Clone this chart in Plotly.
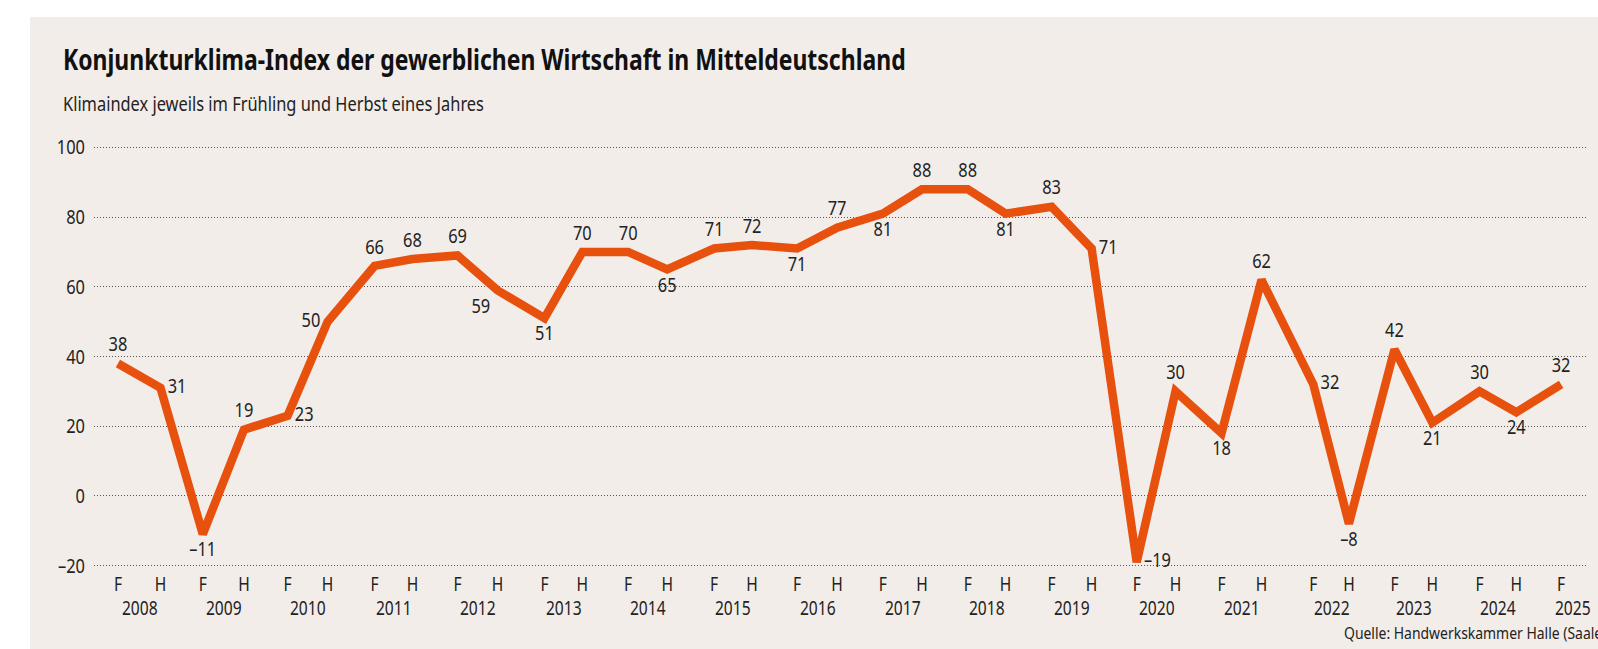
import plotly.graph_objects as go
from datetime import date, timedelta

# ---------------- data ----------------
years = list(range(2008, 2026))
season_labels = ["F", "H"]
# survey dates (Frühling / Herbst)
survey_dates = [
    "2008-04-01", "2008-10-01",
    "2009-04-01", "2009-09-25",
    "2010-04-01", "2010-09-20",
    "2011-04-10", "2011-09-20",
    "2012-04-01", "2012-09-20",
    "2013-04-10", "2013-09-20",
    "2014-04-05", "2014-09-20",
    "2015-04-10", "2015-09-20",
    "2016-04-01", "2016-09-20",
    "2017-04-05", "2017-09-20",
    "2018-04-05", "2018-09-15",
    "2019-04-01", "2019-09-20",
    "2020-04-01", "2020-09-15",
    "2021-04-01", "2021-09-20",
    "2022-05-01", "2022-10-01",
    "2023-04-15", "2023-09-25",
    "2024-04-15", "2024-09-20",
    "2025-04-01",
]
index_values = [38, 31, -11, 19, 23, 50, 66, 68, 69, 59, 51, 70, 70, 65, 71, 72, 71, 77,
                81, 88, 88, 81, 83, 71, -19, 30, 18, 62, 32, -8, 42, 21, 30, 24, 32]
tick_text = [season_labels[i % 2] for i in range(len(survey_dates))]
y_ticks = [-20, 0, 20, 40, 60, 80, 100]

title_text = "Konjunkturklima-Index der gewerblichen Wirtschaft in Mitteldeutschland"
subtitle_text = "Klimaindex jeweils im Frühling und Herbst eines Jahres"
source_text = "Quelle: Handwerkskammer Halle (Saale)"

# label placement per point
label_pos = ["top center", "middle right", "bottom center", "top center", "middle right",
             "middle left", "top center", "top center", "top center", "bottom left",
             "bottom center", "top center", "top center", "bottom center", "top center",
             "top center", "bottom center", "top center", "bottom center", "top center",
             "top center", "bottom center", "top center", "middle right", "middle right",
             "top center", "bottom center", "top center", "middle right", "bottom center",
             "top center", "bottom center", "top center", "bottom center", "top center"]

# ---------------- style ----------------
W, H = 1598, 649
ML, MR, MT, MB = 94, 12, 144, 80
PW, PH = W - ML - MR, H - MT - MB
BG = "#F2EDE9"
LINE = "#E8500E"
TXT = "#222222"
FONT = "Noto Sans, Roboto, sans-serif"
CONDENSE = 0.82


def fmt(v):
    return ("\u2013" + str(abs(v))) if v < 0 else str(v)


def px_x(px):
    return (px - ML) / PW


def px_y(py):
    return (H - MB - py) / PH


def d(s):
    return date.fromisoformat(s)


def f(size, color=TXT, weight="normal"):
    return dict(family=FONT, size=size, color=color, weight=weight)


fig = go.Figure()
fig.add_trace(go.Scatter(
    x=survey_dates, y=index_values, mode="lines+markers+text",
    line=dict(color=LINE, width=8.5),
    marker=dict(size=10, color="rgba(0,0,0,0)"),
    text=[fmt(v) for v in index_values], textposition=label_pos,
    textfont=f(20),
    hoverinfo="skip", cliponaxis=False,
))

annotations = [
    dict(text=title_text, xref="paper", yref="paper", align="left",
         x=px_x(61), y=px_y(59), xanchor="left", yanchor="middle", showarrow=False,
         font=f(28, "#111111", "bold")),
    dict(text=subtitle_text, xref="paper", yref="paper", align="left",
         x=px_x(61), y=px_y(103), xanchor="left", yanchor="middle", showarrow=False,
         font=f(20)),
    dict(text=source_text, xref="paper", yref="paper", align="left",
         x=px_x(1342), y=px_y(632), xanchor="left", yanchor="middle", showarrow=False,
         font=f(17)),
]

# year labels centered between F and H surveys
for yr in years:
    ds = [s for s in survey_dates if s.startswith(str(yr))]
    if len(ds) == 2:
        a, b = d(ds[0]), d(ds[1])
        mid = a + (b - a) / 2
    else:
        mid = d(ds[0]) + timedelta(days=48)
    annotations.append(dict(text=str(yr), x=mid.isoformat(), xref="x", yref="paper",
                            y=px_y(608), xanchor="center", yanchor="middle", showarrow=False,
                            font=f(19)))

fig.update_layout(
    width=W, height=H, margin=dict(l=ML, r=MR, t=MT, b=MB),
    paper_bgcolor="white", plot_bgcolor="rgba(0,0,0,0)",
    showlegend=False, annotations=annotations,
    shapes=[dict(type="rect", xref="paper", yref="paper", layer="below",
                 x0=px_x(30), x1=px_x(W + 5), y0=px_y(H + 5), y1=px_y(17),
                 fillcolor=BG, line=dict(width=0))],
)
fig.update_xaxes(
    type="date", range=["2007-12-20", "2025-07-17"],
    tickmode="array", tickvals=survey_dates, ticktext=tick_text,
    showgrid=False, zeroline=False, showline=False, ticks="",
    tickfont=f(19), ticklabelstandoff=2,
)
fig.update_yaxes(
    range=[-21, 101], tickmode="array", tickvals=y_ticks, ticktext=[fmt(v) for v in y_ticks],
    showgrid=True, gridcolor="#555555", gridwidth=1, griddash="1px,2px",
    zeroline=False, showline=False, ticks="",
    tickfont=f(20), ticklabelstandoff=8,
)

post = (
    "document.body.style.margin='0';"
    "document.querySelectorAll('svg text').forEach(function(t){"
    "  var L = t.getComputedTextLength();"
    "  if (L > 0) { t.setAttribute('textLength', (L*%s).toFixed(2));"
    "  t.setAttribute('lengthAdjust', 'spacingAndGlyphs'); }"
    "});" % CONDENSE
)
fig.write_html("out.html", config={"displayModeBar": False}, post_script=post)
